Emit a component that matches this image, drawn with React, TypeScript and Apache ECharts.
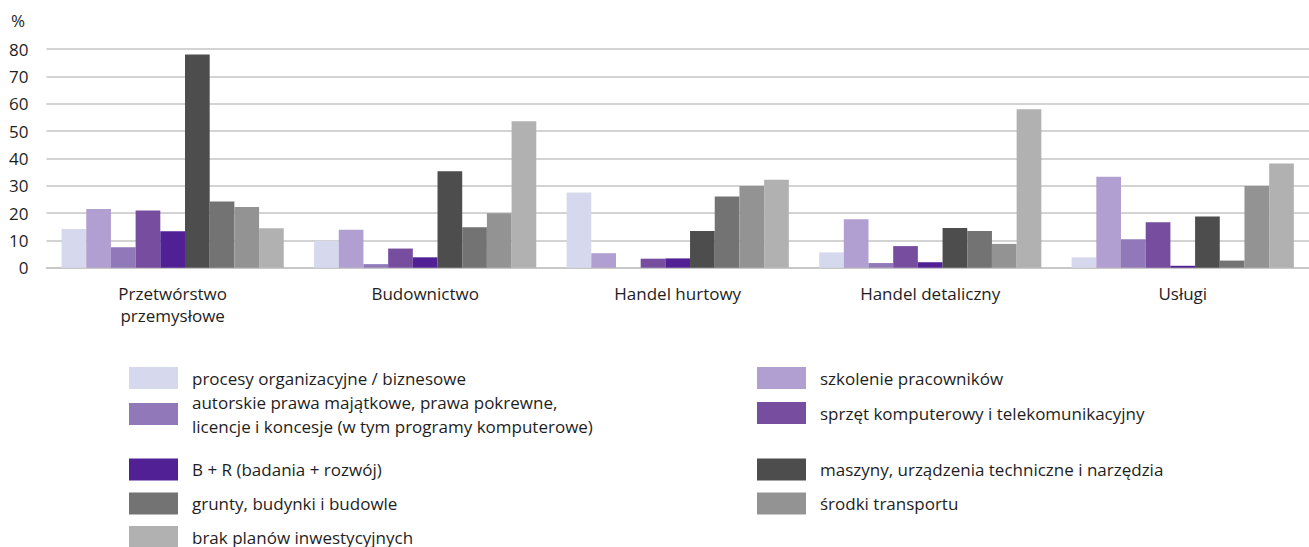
import React, { useEffect, useRef } from "react";
import * as echarts from "echarts";

const categories = ["Przetwórstwo\nprzemysłowe", "Budownictwo", "Handel hurtowy", "Handel detaliczny", "Usługi"];

const procesy = [14.2, 9.8, 27.5, 5.6, 3.8];
const szkolenie = [21.5, 13.9, 5.3, 17.7, 33.3];
const autorskie = [7.5, 1.3, 0, 1.7, 10.4];
const sprzet = [20.9, 7.0, 3.3, 7.9, 16.6];
const badania = [13.3, 3.8, 3.4, 2.0, 0.7];
const maszyny = [78.0, 35.3, 13.4, 14.5, 18.7];
const grunty = [24.2, 14.8, 26.0, 13.4, 2.6];
const srodki = [22.2, 19.9, 29.9, 8.7, 29.9];
const brak = [14.4, 53.6, 32.2, 58.0, 38.1];

const seriesNames = [
  "procesy organizacyjne / biznesowe",
  "szkolenie pracowników",
  "autorskie prawa majątkowe, prawa pokrewne, licencje i koncesje (w tym programy komputerowe)",
  "sprzęt komputerowy i telekomunikacyjny",
  "B + R (badania + rozwój)",
  "maszyny, urządzenia techniczne i narzędzia",
  "grunty, budynki i budowle",
  "środki transportu",
  "brak planów inwestycyjnych",
];
const seriesData = [procesy, szkolenie, autorskie, sprzet, badania, maszyny, grunty, srodki, brak];
const colors = ["#d6d9ee", "#b09fd0", "#9179b9", "#774e9f", "#512094", "#4d4d4d", "#737373", "#939393", "#b1b1b1"];

const yTicks = { min: 0, max: 80, interval: 10 };

const FONT = "'Open Sans', sans-serif";
const FS = 17;

export default function App() {
  const ref = useRef<HTMLDivElement>(null);
  useEffect(() => {
    if (!ref.current) return;
    const chart = echarts.init(ref.current, null, { renderer: "svg" });

    // legend placement: [series index, left, icon center y]
    const legendPos: [number, number, number][] = [
      [0, 129, 378],
      [2, 129, 413],
      [4, 129, 469.5],
      [6, 129, 503.5],
      [8, 129, 537],
      [1, 757, 378],
      [3, 757, 413],
      [5, 757, 469.5],
      [7, 757, 503.5],
    ];

    const legends = legendPos.map(([idx, left, cy]) => {
      const multi = idx === 2;
      return {
        data: [seriesNames[idx]],
        left,
        top: multi ? cy - 12 - 24 + 1 : cy - 12,
        orient: "horizontal",
        padding: 0,
        itemGap: 0,
        itemWidth: 49,
        itemHeight: 22,
        icon: "rect",
        selectedMode: false,
        formatter: multi
          ? () => "autorskie prawa majątkowe, prawa pokrewne,\nlicencje i koncesje (w tym programy komputerowe)"
          : undefined,
        textStyle: {
          fontFamily: FONT,
          fontSize: FS,
          color: "#1e1e1e",
          lineHeight: 24,
          padding: multi ? [24, 0, 0, 9] : [0, 0, 0, 9],
        },
      };
    });

    chart.setOption({
      animation: false,
      color: colors,
      title: {
        text: "%",
        left: 11,
        top: 12,
        padding: 0,
        textStyle: { fontFamily: FONT, fontSize: FS, fontWeight: "normal", color: "#1e1e1e" },
      },
      grid: { left: 46.4, right: -11, top: 49, bottom: 279.3, containLabel: false },
      legend: legends,
      xAxis: {
        type: "category",
        data: categories,
        axisTick: { show: false },
        axisLine: { lineStyle: { color: "#c4c4c4", width: 1.5 } },
        axisLabel: {
          fontFamily: FONT,
          fontSize: FS,
          color: "#1e1e1e",
          lineHeight: 22,
          margin: 15,
          interval: 0,
        },
      },
      yAxis: {
        type: "value",
        min: yTicks.min,
        max: yTicks.max,
        interval: yTicks.interval,
        axisLine: { show: false },
        axisTick: { show: false },
        splitLine: { lineStyle: { color: "#c4c4c4", width: 1.5 } },
        axisLabel: { fontFamily: FONT, fontSize: FS, color: "#1e1e1e", margin: 18 },
      },
      series: seriesNames.map((name, i) => ({
        name,
        type: "bar",
        data: seriesData[i],
        barGap: "0%",
        barCategoryGap: "12%",
        itemStyle: { color: colors[i] },
      })),
    });
    return () => chart.dispose();
  }, []);
  return (
    <div
      ref={ref}
      style={{ position: "fixed", left: 0, top: 0, width: 1309, height: 547, background: "#fff" }}
    />
  );
}
